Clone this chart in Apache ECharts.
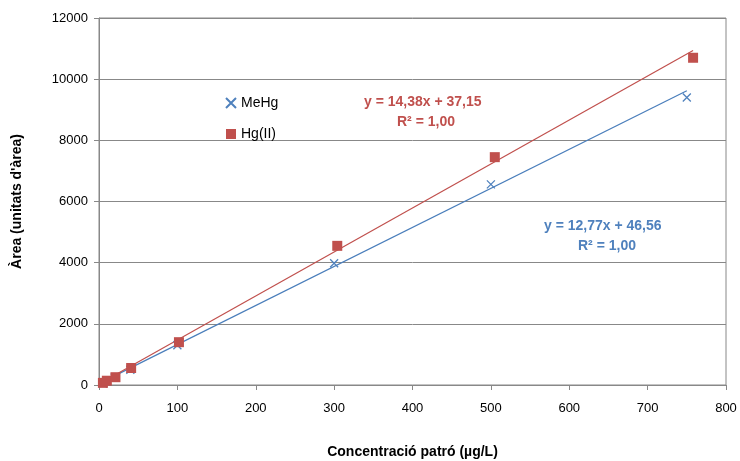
<!DOCTYPE html>
<html><head><meta charset="utf-8">
<script src="https://cdn.jsdelivr.net/npm/echarts@6/dist/echarts.min.js"></script>
<style>html,body{margin:0;padding:0;background:#fff}#c{width:740px;height:461px}</style>
</head><body><div id="c"></div>
<script>
const meHgX = [5, 10, 20, 40, 100, 300, 500, 750];
const meHgY = [50, 120, 240, 500, 1300, 3980, 6560, 9400];
const hgX = [5, 10, 21, 41, 102, 304, 505, 758];
const hgY = [70, 140, 255, 555, 1400, 4550, 7450, 10700];
const meHgFit = [12.77, 46.56];
const hgFit = [14.38, 37.15];
const xTicks = [0, 100, 200, 300, 400, 500, 600, 700, 800];
const yTicks = [0, 2000, 4000, 6000, 8000, 10000, 12000];

const blue = '#4F81BD', red = '#C0504D';
const font = 'Liberation Sans';
function pairs(xs, ys){ return xs.map((x,i)=>[x, ys[i]]); }
function fitLine(xs, f){ const a=Math.min(...xs), b=Math.max(...xs); return [[a, f[0]*a+f[1]], [b, f[0]*b+f[1]]]; }

const chart = echarts.init(document.getElementById('c'));
chart.setOption({
  animation:false,
  grid:{left:99, right:14, top:18, bottom:76, containLabel:false, outerBoundsMode:'none',
    show:true, borderColor:'#888', borderWidth:1},
  xAxis:{type:'value', min:xTicks[0], max:xTicks[xTicks.length-1], interval:100,
    name:'Concentració patró (µg/L)', nameLocation:'middle', nameGap:60,
    nameTextStyle:{fontFamily:font, fontWeight:'bold', fontSize:14, color:'#000'},
    axisLine:{lineStyle:{color:'#888'}}, axisTick:{show:true, length:5, lineStyle:{color:'#888'}},
    splitLine:{show:false}, axisLabel:{fontFamily:font, fontSize:13, color:'#000', margin:17, formatter:v=>String(v)}},
  yAxis:{type:'value', min:yTicks[0], max:yTicks[yTicks.length-1], interval:2000,
    name:"Àrea (unitats d'àrea)", nameLocation:'middle', nameGap:75,
    nameTextStyle:{fontFamily:font, fontWeight:'bold', fontSize:14, color:'#000'},
    axisLine:{show:true, lineStyle:{color:'#888'}}, axisTick:{show:true, length:5, lineStyle:{color:'#888'}},
    splitLine:{lineStyle:{color:'#888'}}, axisLabel:{fontFamily:font, fontSize:13, color:'#000', margin:11, formatter:v=>String(v)}},
  legend:{orient:'vertical', left:220, top:91, itemGap:17, itemWidth:10, itemHeight:10,
    data:['MeHg','Hg(II)'], textStyle:{fontFamily:font, fontSize:14, color:'#000'}},
  series:[
    {name:'MeHg', type:'scatter', data:pairs(meHgX, meHgY), symbol:'path://M0,0L10,10M10,0L0,10', symbolSize:8,
     itemStyle:{color:blue, borderColor:blue, borderWidth:1.3, opacity:1}, z:5},
    {name:'Hg(II)', type:'scatter', data:pairs(hgX, hgY), symbol:'rect', symbolSize:10,
     itemStyle:{color:red, opacity:1}, z:5},
    {name:'MeHg fit', type:'line', data:fitLine(meHgX, meHgFit), symbol:'none', lineStyle:{color:'#4A7EBB', width:1.2}, z:3},
    {name:'Hg fit', type:'line', data:fitLine(hgX, hgFit), symbol:'none', lineStyle:{color:red, width:1.2}, z:3}
  ],
  graphic:[
    {type:'text', left:364, top:95, style:{text:'y = 14,38x + 37,15', fontFamily:font, fontWeight:'bold', fontSize:14, fill:red}},
    {type:'text', left:397, top:115, style:{text:'R² = 1,00', fontFamily:font, fontWeight:'bold', fontSize:14, fill:red}},
    {type:'text', left:544, top:219, style:{text:'y = 12,77x + 46,56', fontFamily:font, fontWeight:'bold', fontSize:14, fill:blue}},
    {type:'text', left:578, top:239, style:{text:'R² = 1,00', fontFamily:font, fontWeight:'bold', fontSize:14, fill:blue}}
  ]
});
</script></body></html>
